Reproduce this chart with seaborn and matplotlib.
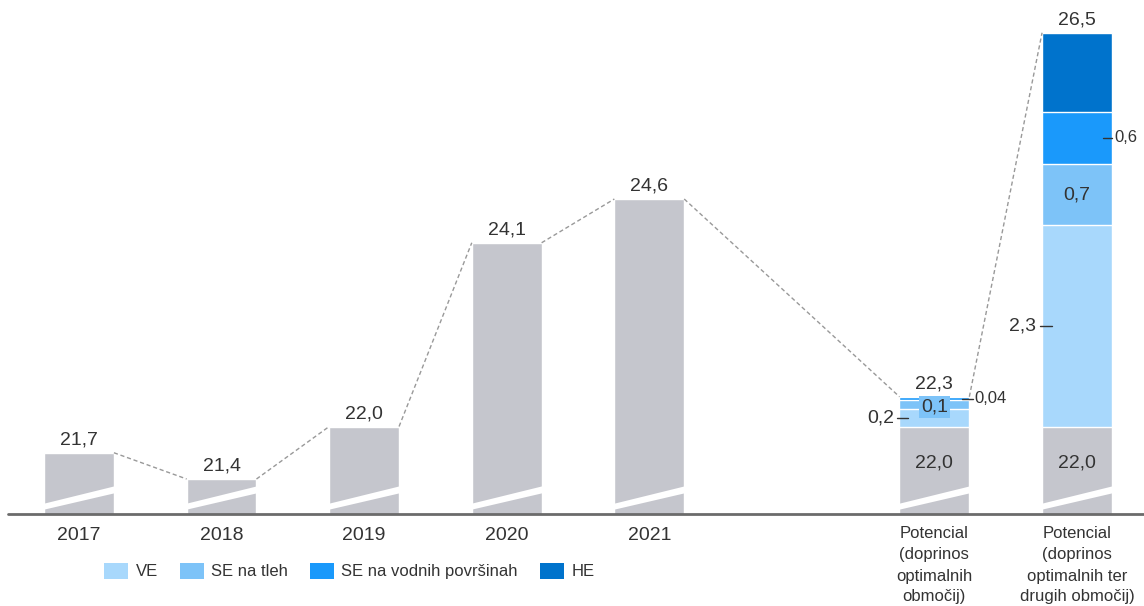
import numpy as np
import pandas as pd
import matplotlib
matplotlib.use("Agg")
import matplotlib.pyplot as plt
import seaborn as sns
from matplotlib.patches import Patch, Polygon

# ---------------- data ----------------
categories = ["2017", "2018", "2019", "2020", "2021",
              "Potencial\n(doprinos\noptimalnih\nobmočij)",
              "Potencial\n(doprinos\noptimalnih ter\ndrugih območij)"]
positions = [0, 1, 2, 3, 4, 6, 7]
base_values = [21.7, 21.4, 22.0, 24.1, 24.6, 22.0, 22.0]
base_labels = ["21,7", "21,4", "22,0", "24,1", "24,6", "22,0", "22,0"]

pot_positions = [6, 7]
ve = [0.2, 2.3]
se_tleh = [0.1, 0.7]
se_vod = [0.04, 0.6]
he = [0.0, 0.9]
pot_total_labels = ["22,3", "26,5"]
series_names = ["VE", "SE na tleh", "SE na vodnih površinah", "HE"]

# ---------------- style ----------------
sns.set_theme(style="white")
plt.rcParams["font.family"] = ["Liberation Sans", "DejaVu Sans"]
TXT = "#333333"
GRAY = "#c5c6cd"
C_VE, C_TLEH, C_VOD, C_HE = "#a8d8fc", "#7dc3f8", "#1a99fb", "#0073cc"
W = 0.49
HW = W / 2
FS_BIG = 14
FS_SMALL = 12

fig = plt.figure(figsize=(11.44, 6.06), dpi=100)
Y0 = 21.0
px_per_unit = 87.5
ax = fig.add_axes([0, 92 / 606, 1, 514 / 606])
ax.set_ylim(Y0, Y0 + 514 / px_per_unit)
ax.set_xlim(-0.554, 7.47)

pot_base = np.array(base_values[5:])
c1 = pot_base + np.array(ve)
c2 = c1 + np.array(se_tleh)
c3 = c2 + np.array(se_vod)
c4 = c3 + np.array(he)

for vals, col in [(c4, C_HE), (c3, C_VOD), (c2, C_TLEH), (c1, C_VE)]:
    sns.barplot(x=pot_positions, y=vals, native_scale=True, width=W, color=col,
                saturation=1, edgecolor="white", linewidth=1, ax=ax, errorbar=None)
sns.barplot(x=positions, y=base_values, native_scale=True, width=W, color=GRAY,
            saturation=1, edgecolor="white", linewidth=1, ax=ax, errorbar=None)

# break slashes
for p in positions:
    l, r = p - HW - 0.01, p + HW + 0.01
    poly = Polygon([(l, Y0 + 4 / 88), (r, Y0 + 21 / 88), (r, Y0 + 28 / 88), (l, Y0 + 10 / 88)],
                   closed=True, facecolor="white", edgecolor="none", zorder=5)
    ax.add_patch(poly)

# baseline
ax.axhline(Y0, xmin=8 / 1144, xmax=1, color="#6b6b6b", lw=2, zorder=6, clip_on=False)

# connectors
tops = list(base_values[:5]) + list(c4)
for i in range(len(positions) - 1):
    ax.plot([positions[i] + HW, positions[i + 1] - HW], [tops[i], tops[i + 1]],
            color="#999999", lw=1, ls=(0, (3, 2)), zorder=3)

# labels on top of bars
for p, v, lab in zip(positions[:5], base_values[:5], base_labels[:5]):
    ax.annotate(lab, (p, v), xytext=(0, 3), textcoords="offset points",
                ha="center", va="bottom", fontsize=FS_BIG, color=TXT)
for p, v, lab in zip(pot_positions, c4, pot_total_labels):
    ax.annotate(lab, (p, v), xytext=(0, 3), textcoords="offset points",
                ha="center", va="bottom", fontsize=FS_BIG, color=TXT)
# 22,0 inside
for p, lab in zip(pot_positions, base_labels[5:]):
    ax.text(p, 21.58, lab, ha="center", va="center", fontsize=FS_BIG, color=TXT, zorder=7)

# Pot1 segment labels
p = pot_positions[0]
ax.text(p, (c1[0] + c2[0]) / 2 - 0.03, "0,1", ha="center", va="center", fontsize=FS_BIG, color=TXT,
        zorder=8, bbox=dict(boxstyle="square,pad=0.12", fc=C_TLEH, ec="none"))
y = (pot_base[0] + c1[0]) / 2
ax.plot([p - HW - 0.015, p - HW + 0.06], [y, y], color=TXT, lw=1, zorder=8)
ax.text(p - HW - 0.04, y, "0,2", ha="right", va="center", fontsize=FS_BIG, color=TXT)
y = (c2[0] + c3[0]) / 2
ax.plot([p + HW - 0.055, p + HW + 0.025], [y, y], color=TXT, lw=1, zorder=8)
ax.text(p + HW + 0.035, y, "0,04", ha="left", va="center", fontsize=FS_SMALL, color=TXT)

# Pot2 segment labels
p = pot_positions[1]
y = (pot_base[1] + c1[1]) / 2
ax.plot([p - HW - 0.015, p - HW + 0.07], [y, y], color=TXT, lw=1, zorder=8)
ax.text(p - HW - 0.04, y, "2,3", ha="right", va="center", fontsize=FS_BIG, color=TXT)
ax.text(p, (c1[1] + c2[1]) / 2, "0,7", ha="center", va="center", fontsize=FS_BIG, color=TXT)
y = (c2[1] + c3[1]) / 2
ax.plot([p + HW - 0.06, p + HW], [y, y], color=TXT, lw=1, zorder=8)
ax.text(p + HW + 0.02, y, "0,6", ha="left", va="center", fontsize=FS_SMALL, color=TXT)

# axes cosmetics
for s in ax.spines.values():
    s.set_visible(False)
ax.set_yticks([])
ax.set_xticks(positions)
ax.set_xticklabels(categories, color=TXT, linespacing=1.5)
for i, t in enumerate(ax.get_xticklabels()):
    t.set_fontsize(FS_BIG if i < 5 else FS_SMALL)
ax.tick_params(axis="x", length=0, pad=9)
ax.set_xlabel("")
ax.set_ylabel("")

handles = [Patch(facecolor=c, edgecolor="none") for c in [C_VE, C_TLEH, C_VOD, C_HE]]
fig.legend(handles, series_names, loc="center left", bbox_to_anchor=(104 / 1144, 1 - 571 / 606),
           ncol=4, frameon=False, handlelength=1.45, handleheight=1.15, handletextpad=0.45,
           columnspacing=1.3, fontsize=FS_SMALL, borderpad=0, borderaxespad=0, labelcolor=TXT)

fig.savefig("out.png", dpi=100)
